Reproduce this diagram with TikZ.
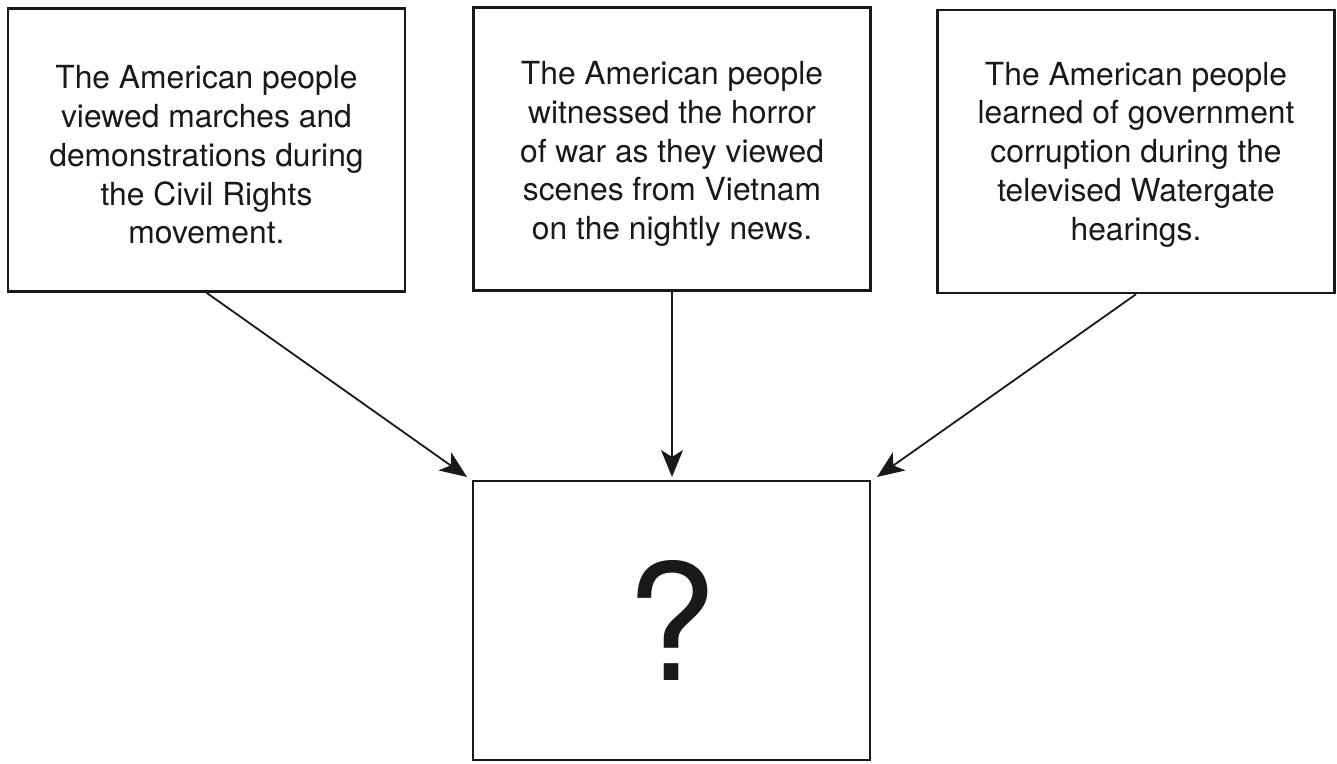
\documentclass[tikz,border=0pt]{standalone}
\usepackage{fontspec}
\setmainfont{TeX Gyre Heros}
\usetikzlibrary{arrows.meta}
\tikzset{
  topbox/.style={draw=black!90, line width=2.5pt, minimum width=397pt, minimum height=283pt, inner sep=0pt},
  boxtext/.style={inner sep=0pt, align=center, font=\fontsize{31.8}{38.8}\selectfont, text=black!90},
  qbox/.style={draw=black!90, line width=2.5pt, minimum width=397pt, minimum height=279pt, inner sep=0pt, font=\fontsize{162}{162}\selectfont, text=black!90},
  conn/.style={draw=black!90, line width=1.8pt, -{Stealth[length=27pt, width=22pt, inset=7pt]}}
}
\begin{document}
\begin{tikzpicture}[x=1pt,y=1pt]
\useasboundingbox (0,0) rectangle (1337,763);
\node[topbox] (L) at (206.5,613) {};
\node[topbox] (M) at (672,614) {};
\node[topbox] (R) at (1136,611.5) {};
\node[boxtext] (Lt) at ([yshift=-5pt]L.center) {The American people\\viewed marches and\\demonstrations during\\the Civil Rights\\movement.};
\node[boxtext] (Mt) at ([yshift=-5pt]M.center) {The American people\\witnessed the horror\\of war as they viewed\\scenes from Vietnam\\on the nightly news.};
\node[boxtext] (Rt) at ([yshift=-3pt]R.center) {The American people\\learned of government\\corruption during the\\televised Watergate\\hearings.};
\node[qbox] (B) at (671.5,142.5) {?};
\coordinate (tl) at (467,286);
\coordinate (tm) at (672,286);
\coordinate (tr) at (877,286);
\draw[conn] (L.south) -- (tl);
\draw[conn] (M.south) -- (tm);
\draw[conn] (R.south) -- (tr);
\end{tikzpicture}
\end{document}
